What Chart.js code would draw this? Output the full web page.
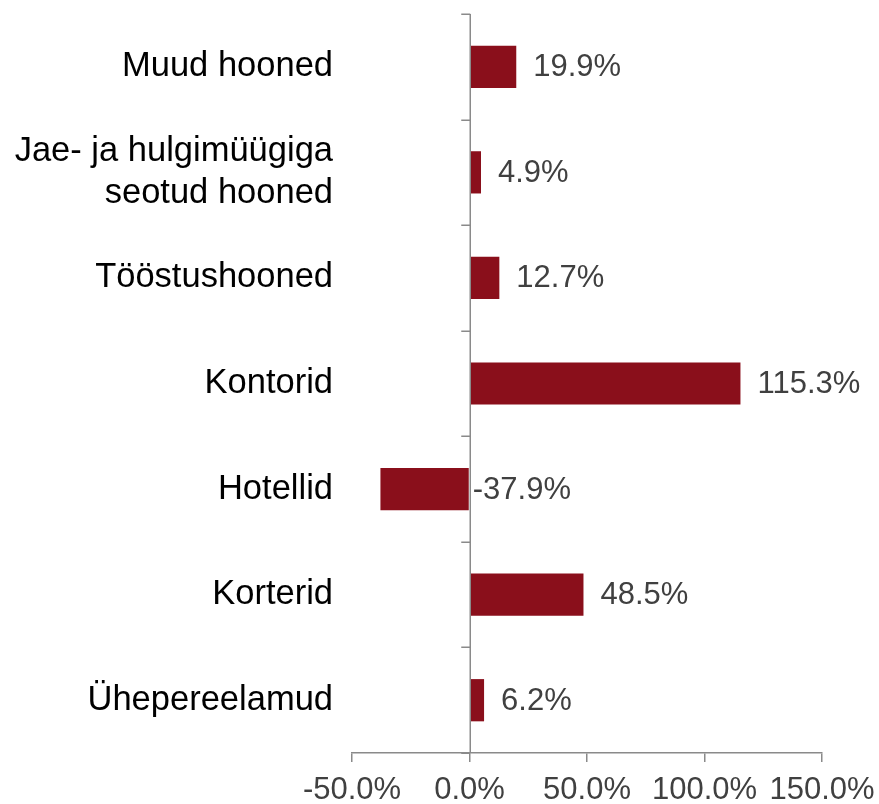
<!DOCTYPE html>
<html>
<head>
<meta charset="utf-8">
<script src="https://cdn.jsdelivr.net/npm/chart.js@4/dist/chart.umd.min.js"></script>
<style>
  html, body { margin: 0; padding: 0; background: #fff; }
  #wrap { width: 879px; height: 804px; position: relative; }
</style>
</head>
<body>
<div id="wrap"><canvas id="chart"></canvas></div>
<script>
const categories = [
  "Muud hooned",
  ["Jae- ja hulgimüügiga", "seotud hooned"],
  "Tööstushooned",
  "Kontorid",
  "Hotellid",
  "Korterid",
  "Ühepereelamud",
];
const changes = [19.9, 4.9, 12.7, 115.3, -37.9, 48.5, 6.2];
const xTicks = [-50, 0, 50, 100, 150];

const FONT = "'Liberation Sans', Arial, sans-serif";
const axisGray = "#8a8a8a";
const textGray = "#404040";

// vertical axis line at 0 with small ticks between the categories
const zeroAxis = {
  id: "zeroAxis",
  afterDatasetsDraw(chart) {
    const { ctx, chartArea, scales } = chart;
    const x0 = Math.round(scales.x.getPixelForValue(0)) + 0.25;
    ctx.save();
    ctx.strokeStyle = axisGray;
    ctx.lineWidth = 1.5;
    ctx.beginPath();
    ctx.moveTo(x0, chartArea.top);
    ctx.lineTo(x0, chartArea.bottom);
    for (let i = 0; i <= categories.length; i++) {
      const y = Math.round(scales.y.getPixelForValue(i - 0.5)) + 0.25;
      ctx.moveTo(x0 - 9, y);
      ctx.lineTo(x0, y);
    }
    ctx.stroke();
    ctx.restore();
  },
};

// value labels at the end of each bar
const barLabels = {
  id: "barLabels",
  afterDatasetsDraw(chart) {
    const ctx = chart.ctx;
    const meta = chart.getDatasetMeta(0);
    ctx.save();
    ctx.font = "31px " + FONT;
    ctx.fillStyle = textGray;
    ctx.textAlign = "left";
    ctx.textBaseline = "middle";
    meta.data.forEach((bar, i) => {
      const v = changes[i];
      const x = v >= 0 ? bar.x + 17 : bar.base + 4;
      ctx.fillText(v.toFixed(1) + "%", x, bar.y + 1);
    });
    ctx.restore();
  },
};

new Chart(document.getElementById("chart").getContext("2d"), {
  type: "bar",
  data: {
    labels: categories,
    datasets: [
      {
        data: changes,
        backgroundColor: "#8a0f1b",
        borderWidth: 0,
        barPercentage: 0.4,
        categoryPercentage: 1,
      },
    ],
  },
  options: {
    indexAxis: "y",
    responsive: true,
    maintainAspectRatio: false,
    animation: false,
    layout: {
      padding: { left: 15, right: 57, top: 14, bottom: 0 },
    },
    plugins: {
      legend: { display: false },
      tooltip: { enabled: false },
    },
    scales: {
      x: {
        type: "linear",
        min: -50,
        max: 150,
        afterBuildTicks: (scale) => {
          scale.ticks = xTicks.map((v) => ({ value: v }));
        },
        afterFit: (scale) => {
          scale.height = 51;
          scale.paddingLeft = 0;
          scale.paddingRight = 0;
        },
        ticks: {
          callback: (v) => v.toFixed(1) + "%",
          color: textGray,
          font: { family: FONT, size: 31 },
          padding: 10,
          maxRotation: 0,
        },
        grid: {
          drawOnChartArea: false,
          drawTicks: true,
          tickLength: 9,
          color: axisGray,
          lineWidth: 1.5,
        },
        border: { display: true, color: axisGray, width: 1.5 },
      },
      y: {
        type: "category",
        position: "left",
        offset: true,
        afterFit: (scale) => {
          scale.width = 337;
          scale.paddingTop = 0;
          scale.paddingBottom = 0;
        },
        ticks: {
          color: "#000",
          font: { family: FONT, size: 34.5, lineHeight: 1.21 },
          padding: 19,
        },
        grid: { display: false, drawTicks: false },
        border: { display: false },
      },
    },
  },
  plugins: [zeroAxis, barLabels],
});
</script>
</body>
</html>
